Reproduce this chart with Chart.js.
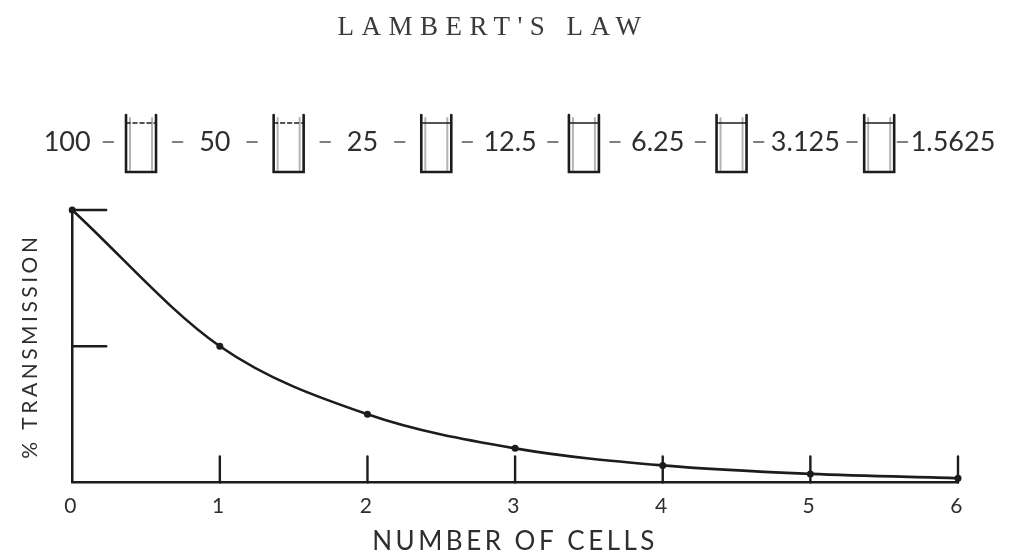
<!DOCTYPE html>
<html>
<head>
<meta charset="utf-8">
<title>Lambert's Law</title>
<script src="https://cdn.jsdelivr.net/npm/chart.js@4.4.1/dist/chart.umd.min.js"></script>
<style>
  html, body { margin: 0; padding: 0; background: #fff; }
  #wrap { width: 1017px; height: 553px; }
</style>
</head>
<body>
<div id="wrap"><canvas id="lambertChart"></canvas></div>
<script>
const chartTitle = "LAMBERT'S LAW";
const cellCounts = [0, 1, 2, 3, 4, 5, 6];
const transmission = [100, 50, 25, 12.5, 6.25, 3.125, 1.5625];
const transmissionLabels = ["100", "50", "25", "12.5", "6.25", "3.125", "1.5625"];
const yTickMarks = [50, 100];
const xTickMarks = [1, 2, 3, 4, 5, 6];

const INK = "#1c1c1c";
const TEXT = "#2e2e2e";

// letter spacing for the axis text (typed labels in the original are spread out)
const spacingPlugin = {
  id: "spacing",
  beforeDraw(chart) {
    chart.ctx.letterSpacing = "3.5px";
  }
};

// tick marks drawn inward, title and the row of cells above the plot
const decorPlugin = {
  id: "decor",
  afterDraw(chart) {
    const ctx = chart.ctx;
    const xs = chart.scales.x;
    const ys = chart.scales.y;
    ctx.save();
    ctx.letterSpacing = "0px";
    ctx.strokeStyle = INK;
    ctx.lineWidth = 2.4;
    ctx.lineCap = "round";

    yTickMarks.forEach((v) => {
      const py = ys.getPixelForValue(v);
      ctx.beginPath();
      ctx.moveTo(xs.left, py);
      ctx.lineTo(xs.left + 34, py);
      ctx.stroke();
    });
    xTickMarks.forEach((v) => {
      const px = xs.getPixelForValue(v);
      ctx.beginPath();
      ctx.moveTo(px, ys.bottom);
      ctx.lineTo(px, ys.bottom - 26);
      ctx.stroke();
    });

    // title
    ctx.fillStyle = "#3a3a3a";
    ctx.textAlign = "center";
    ctx.textBaseline = "middle";
    ctx.font = "27px 'Liberation Serif'";
    ctx.letterSpacing = "7.5px";
    ctx.fillText(chartTitle, 493, 28);
    ctx.letterSpacing = "0px";

    // row of values and cells
    ctx.fillStyle = TEXT;
    const rowY = 142;
    const cellTop = 115;
    const cellBottom = 172;
    const half = 15;
    ctx.font = "27px Lato";
    const numX = transmissionLabels.map((t, i) => xs.getPixelForValue(cellCounts[i]) - 5);
    const numW = transmissionLabels.map((t) => ctx.measureText(t).width);
    transmissionLabels.forEach((t, i) => ctx.fillText(t, numX[i], rowY));

    for (let i = 0; i < cellCounts.length - 1; i++) {
      const cx = xs.getPixelForValue(cellCounts[i] + 0.5) - 5;
      // ghost line from the scan
      ctx.strokeStyle = "#b5b5b5";
      ctx.lineWidth = 2;
      ctx.beginPath();
      ctx.moveTo(cx - half + 4, cellTop + 3);
      ctx.lineTo(cx - half + 4, cellBottom - 2);
      ctx.moveTo(cx + half - 4, cellTop + 3);
      ctx.lineTo(cx + half - 4, cellBottom - 2);
      ctx.stroke();

      ctx.strokeStyle = INK;
      ctx.lineWidth = 2.6;
      ctx.beginPath();
      ctx.moveTo(cx - half, cellTop);
      ctx.lineTo(cx - half, cellBottom);
      ctx.lineTo(cx + half, cellBottom);
      ctx.lineTo(cx + half, cellTop);
      ctx.stroke();

      // liquid level
      ctx.lineWidth = 1.6;
      ctx.setLineDash(i < 2 ? [4, 3] : []);
      ctx.beginPath();
      ctx.moveTo(cx - half, cellTop + 8);
      ctx.lineTo(cx + half, cellTop + 8);
      ctx.stroke();
      ctx.setLineDash([]);

      // connecting dashes
      ctx.strokeStyle = "#555";
      ctx.lineWidth = 1.6;
      const leftGapMid = (numX[i] + numW[i] / 2 + cx - half) / 2;
      const rightGapMid = (cx + half + numX[i + 1] - numW[i + 1] / 2) / 2;
      ctx.beginPath();
      ctx.moveTo(leftGapMid - 5, rowY);
      ctx.lineTo(leftGapMid + 5, rowY);
      ctx.moveTo(rightGapMid - 5, rowY);
      ctx.lineTo(rightGapMid + 5, rowY);
      ctx.stroke();
    }
    ctx.restore();
  }
};

const ctx = document.getElementById("lambertChart").getContext("2d");
new Chart(ctx, {
  type: "line",
  data: {
    datasets: [
      {
        data: cellCounts.map((c, i) => ({ x: c, y: transmission[i] })),
        borderColor: INK,
        borderWidth: 2.6,
        pointRadius: 3.5,
        pointBackgroundColor: INK,
        pointBorderWidth: 0,
        cubicInterpolationMode: "monotone",
        fill: false,
        clip: false,
      },
    ],
  },
  options: {
    responsive: true,
    maintainAspectRatio: false,
    animation: false,
    layout: { padding: { top: 210, right: 59, left: 0, bottom: 0 } },
    plugins: {
      legend: { display: false },
      tooltip: { enabled: false },
    },
    scales: {
      x: {
        type: "linear",
        min: 0,
        max: 6,
        grid: { display: false, drawTicks: false },
        border: { display: true, color: INK, width: 2.5 },
        ticks: {
          stepSize: 1,
          padding: 11,
          color: TEXT,
          font: { family: "Lato", size: 21 },
        },
        title: {
          display: true,
          text: "NUMBER OF CELLS",
          color: TEXT,
          font: { family: "Lato", size: 26, lineHeight: 0.9 },
          padding: { top: 0, bottom: 0 },
        },
      },
      y: {
        min: 0,
        max: 100,
        grid: { display: false, drawTicks: false },
        border: { display: true, color: INK, width: 2.5 },
        ticks: { display: false },
        title: {
          display: true,
          text: "% TRANSMISSION",
          color: TEXT,
          font: { family: "Lato", size: 21, lineHeight: 1.2 },
          padding: { top: 18, bottom: 29 },
        },
      },
    },
  },
  plugins: [spacingPlugin, decorPlugin],
});
</script>
</body>
</html>
